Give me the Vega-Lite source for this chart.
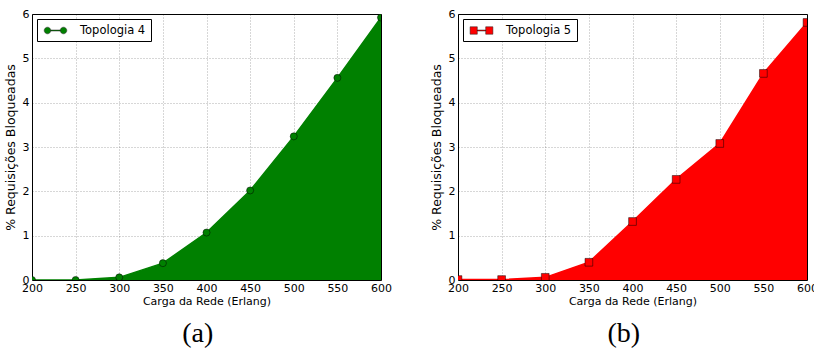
{
  "$schema": "https://vega.github.io/schema/vega-lite/v6.json",
  "padding": {"left": 3, "top": 7, "right": 0, "bottom": 0},
  "background": "white",
  "datasets": {
    "t4": [
      {"carga": 200, "bloq": 0.0, "serie": "Topologia 4"},
      {"carga": 250, "bloq": 0.0, "serie": "Topologia 4"},
      {"carga": 300, "bloq": 0.06, "serie": "Topologia 4"},
      {"carga": 350, "bloq": 0.38, "serie": "Topologia 4"},
      {"carga": 400, "bloq": 1.07, "serie": "Topologia 4"},
      {"carga": 450, "bloq": 2.02, "serie": "Topologia 4"},
      {"carga": 500, "bloq": 3.24, "serie": "Topologia 4"},
      {"carga": 550, "bloq": 4.56, "serie": "Topologia 4"},
      {"carga": 600, "bloq": 5.92, "serie": "Topologia 4"}
    ],
    "t5": [
      {"carga": 200, "bloq": 0.01, "serie": "Topologia 5"},
      {"carga": 250, "bloq": 0.01, "serie": "Topologia 5"},
      {"carga": 300, "bloq": 0.06, "serie": "Topologia 5"},
      {"carga": 350, "bloq": 0.40, "serie": "Topologia 5"},
      {"carga": 400, "bloq": 1.32, "serie": "Topologia 5"},
      {"carga": 450, "bloq": 2.27, "serie": "Topologia 5"},
      {"carga": 500, "bloq": 3.08, "serie": "Topologia 5"},
      {"carga": 550, "bloq": 4.66, "serie": "Topologia 5"},
      {"carga": 600, "bloq": 5.81, "serie": "Topologia 5"}
    ]
  },
  "config": {
    "font": "DejaVu Sans",
    "view": {"stroke": "black", "strokeWidth": 1},
    "axis": {
      "grid": true, "gridColor": "#000", "gridOpacity": 0.45, "gridDash": [1, 2], "gridWidth": 0.7,
      "labelFontSize": 11, "titleFontSize": 11, "titleFontWeight": "normal",
      "labelColor": "#000", "titleColor": "#000", "labelFont": "DejaVu Sans", "titleFont": "DejaVu Sans",
      "domain": false, "ticks": false, "labelFlush": false, "zindex": 1
    },
    "axisX": {"labelPadding": 2, "titlePadding": 2},
    "axisY": {"labelPadding": 3, "titlePadding": 5, "titleFontSize": 12.5},
    "legend": {
      "orient": "top-left", "offset": 5, "padding": 5, "strokeColor": "black", "fillColor": "white",
      "labelFontSize": 11.5, "labelColor": "#000", "labelFont": "DejaVu Sans", "cornerRadius": 0,
      "labelOffset": 18, "symbolOffset": 7, "symbolStrokeColor": "#222", "symbolStrokeWidth": 0.5, "symbolSize": 144
    },
    "title": {"font": "Liberation Serif", "fontSize": 28, "fontWeight": "normal", "color": "#000"}
  },
  "resolve": {"scale": {"color": "independent"}, "legend": {"color": "independent"}},
  "spacing": 37,
  "hconcat": [
    {
      "width": 349, "height": 266,
      "title": {"text": "(a)", "orient": "bottom", "frame": "bounds", "anchor": "middle", "offset": 14},
      "data": {"name": "t4"},
      "encoding": {
        "x": {"field": "carga", "type": "quantitative", "scale": {"domain": [200, 600], "nice": false},
              "axis": {"values": [200, 250, 300, 350, 400, 450, 500, 550, 600], "title": "Carga da Rede (Erlang)"}},
        "y": {"field": "bloq", "type": "quantitative", "scale": {"domain": [0, 6], "nice": false},
              "axis": {"values": [0, 1, 2, 3, 4, 5, 6], "title": "% Requisições Bloqueadas"}}
      },
      "layer": [
        {"mark": {"type": "area", "color": "#008000", "clip": true}},
        {"mark": {"type": "line", "color": "#008000", "strokeWidth": 1.5, "clip": true}},
        {
          "mark": {"type": "point", "shape": "circle", "filled": true, "size": 50, "stroke": "#000", "strokeOpacity": 0.6, "strokeWidth": 0.8, "opacity": 1, "clip": true},
          "encoding": {
            "color": {"field": "serie", "type": "nominal", "scale": {"domain": ["Topologia 4"], "range": ["#008000"]},
                      "legend": {"title": null, "symbolType": "M -1.883 0 A 0.55 0.55 0 1 0 -0.783 0 A 0.55 0.55 0 1 0 -1.883 0 Z M 0.783 0 A 0.55 0.55 0 1 0 1.883 0 A 0.55 0.55 0 1 0 0.783 0 Z M -0.783 -0.08 L 0.783 -0.08 L 0.783 0.08 L -0.783 0.08 Z"}}
          }
        }
      ]
    },
    {
      "width": 349, "height": 266,
      "title": {"text": "(b)", "orient": "bottom", "frame": "bounds", "anchor": "middle", "offset": 14},
      "data": {"name": "t5"},
      "encoding": {
        "x": {"field": "carga", "type": "quantitative", "scale": {"domain": [200, 600], "nice": false},
              "axis": {"values": [200, 250, 300, 350, 400, 450, 500, 550, 600], "title": "Carga da Rede (Erlang)"}},
        "y": {"field": "bloq", "type": "quantitative", "scale": {"domain": [0, 6], "nice": false},
              "axis": {"values": [0, 1, 2, 3, 4, 5, 6], "title": "% Requisições Bloqueadas"}}
      },
      "layer": [
        {"mark": {"type": "area", "color": "#ff0000", "clip": true}},
        {"mark": {"type": "line", "color": "#ff0000", "strokeWidth": 1.5, "clip": true}},
        {
          "mark": {"type": "point", "shape": "square", "filled": true, "size": 60, "stroke": "#000", "strokeOpacity": 0.6, "strokeWidth": 0.8, "opacity": 1, "clip": true},
          "encoding": {
            "color": {"field": "serie", "type": "nominal", "scale": {"domain": ["Topologia 5"], "range": ["#ff0000"]},
                      "legend": {"title": null, "symbolType": "M -1.9 -0.62 L -0.7 -0.62 L -0.7 0.62 L -1.9 0.62 Z M 0.7 -0.62 L 1.9 -0.62 L 1.9 0.62 L 0.7 0.62 Z M -0.7 -0.08 L 0.7 -0.08 L 0.7 0.08 L -0.7 0.08 Z"}}
          }
        }
      ]
    }
  ]
}
